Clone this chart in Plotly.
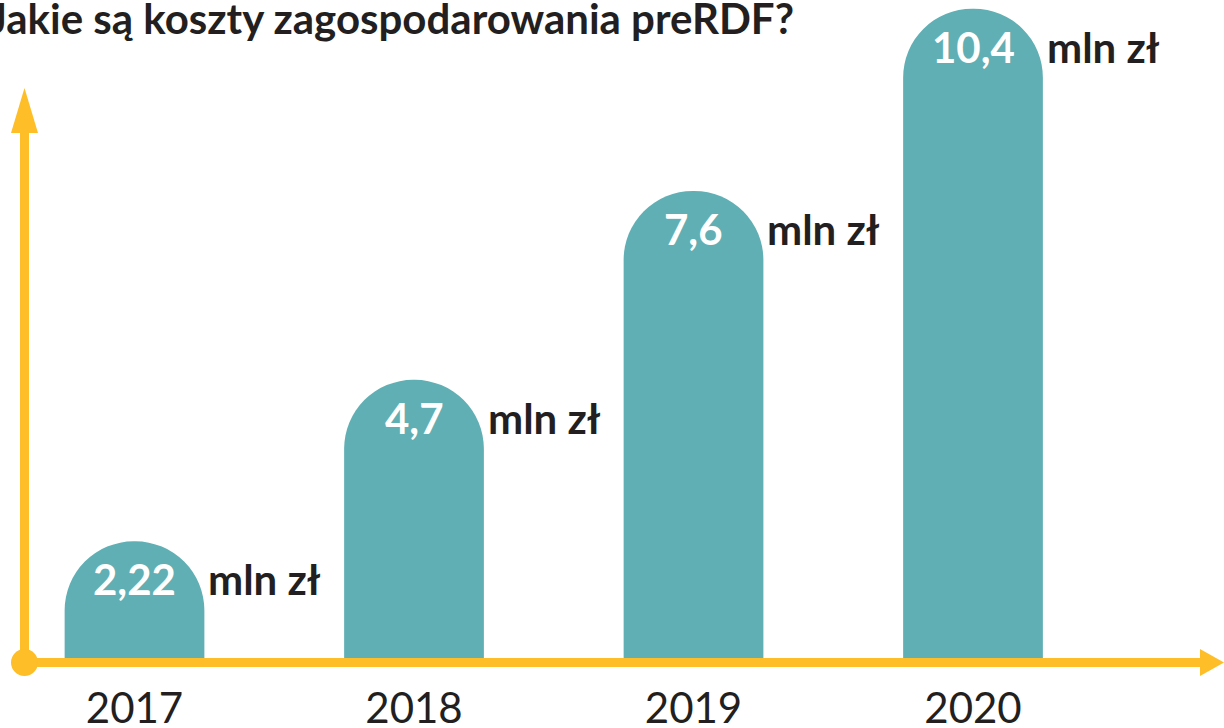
import plotly.graph_objects as go

years = ["2017", "2018", "2019", "2020"]
values = [2.22, 4.7, 7.6, 10.4]
value_labels = [str(v).replace(".", ",") for v in values]
unit_label = "mln zł"
title_text = "Jakie są koszty zagospodarowania preRDF?"

TEAL = "#60AFB4"
YELLOW = "#FEBE27"
DARK = "#231F20"
FONT = "Lato, 'Open Sans', sans-serif"

W, H = 1224, 728
L, R, T, B = 25, 24, 0, 70
PW, PH = W - L - R, H - T - B
BAR_W = 0.5


def px(xp):
    return (xp - L) / PW


def py(yp):
    return (T + PH - yp) / PH


fig = go.Figure()
fig.add_trace(go.Bar(
    x=years, y=values, width=BAR_W,
    marker=dict(color=TEAL, cornerradius="50%", line=dict(width=0)),
    hoverinfo="skip",
))

annotations = []
for i, (yr, v, lab) in enumerate(zip(years, values, value_labels)):
    annotations.append(dict(
        x=i, y=v, xref="x", yref="y", text=f"<b>{lab}</b>", showarrow=False,
        xanchor="center", yanchor="middle", yshift=-38,
        font=dict(family=FONT, size=42, color="white"),
    ))
    annotations.append(dict(
        x=i + BAR_W / 2, y=v, xref="x", yref="y", text=f"<b>{unit_label}</b>",
        showarrow=False, xanchor="left", yanchor="middle", yshift=-38, xshift=2,
        font=dict(family=FONT, size=42, color=DARK),
    ))

annotations.append(dict(
    x=px(796), y=1, xref="paper", yref="paper", text=f"<b>{title_text}</b>",
    showarrow=False, xanchor="right", yanchor="top", yshift=9,
    font=dict(family=FONT, size=42, color=DARK),
))

shapes = [
    # horizontal axis line
    dict(type="rect", xref="paper", yref="paper", x0=px(25), x1=px(1201),
         y0=py(658), y1=py(667), fillcolor=YELLOW, line=dict(width=0)),
    dict(type="path", xref="paper", yref="paper",
         path=f"M {px(1200)} {py(649)} L {px(1224)} {py(662.5)} L {px(1200)} {py(676)} Z",
         fillcolor=YELLOW, line=dict(width=0)),
    # vertical axis line
    dict(type="rect", xref="paper", yref="paper", x0=px(20), x1=px(29),
         y0=py(662), y1=py(132), fillcolor=YELLOW, line=dict(width=0)),
    dict(type="path", xref="paper", yref="paper",
         path=f"M {px(11)} {py(133)} L {px(24.5)} {py(88)} L {px(38)} {py(133)} Z",
         fillcolor=YELLOW, line=dict(width=0)),
    # origin dot
    dict(type="circle", xref="paper", yref="paper", x0=px(11), x1=px(38),
         y0=py(676), y1=py(649), fillcolor=YELLOW, line=dict(width=0)),
]

baseline_value = 0.429
px_per_unit = 65.12
fig.update_layout(
    width=W, height=H,
    margin=dict(l=L, r=R, t=T, b=B, pad=0, autoexpand=False),
    paper_bgcolor="white", plot_bgcolor="white",
    showlegend=False,
    xaxis=dict(type="category", range=[-(134.5 - L) / 279.5, -(134.5 - L) / 279.5 + PW / 279.5],
               showgrid=False, zeroline=False, showline=False, ticks="", automargin=False,
               tickfont=dict(family=FONT, size=42, color=DARK), ticklabelstandoff=22,
               fixedrange=True),
    yaxis=dict(range=[baseline_value, baseline_value + PH / px_per_unit], automargin=False,
               showgrid=False, zeroline=False, showline=False, showticklabels=False,
               ticks="", fixedrange=True),
    annotations=annotations,
    shapes=shapes,
)

post = (
    "var s=document.createElement('style');"
    "s.innerHTML='html,body{margin:0;padding:0;overflow:hidden;width:1224px;height:728px;line-height:0;font-size:0;}"
    " .plotly-graph-div,.plot-container,.svg-container{display:block !important;}';"
    "document.head.appendChild(s);window.scrollTo(0,0);"
)
fig.write_html("out.html", config={"displayModeBar": False}, post_script=post)
